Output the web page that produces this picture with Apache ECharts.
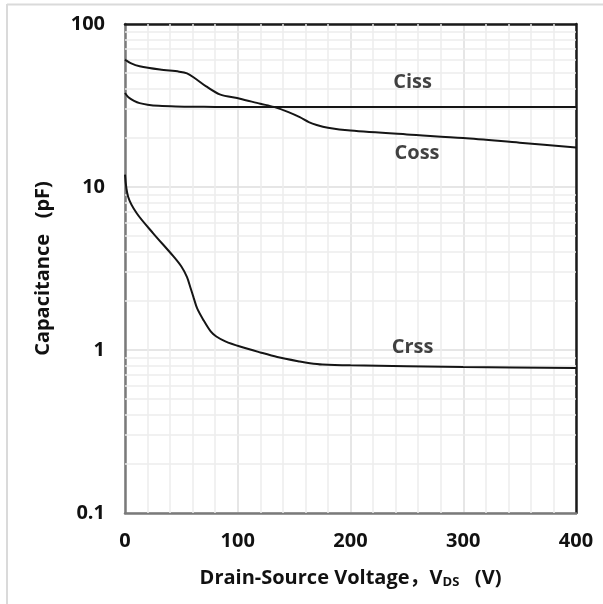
<!DOCTYPE html>
<html>
<head>
<meta charset="utf-8">
<script src="https://cdn.jsdelivr.net/npm/echarts@6/dist/echarts.min.js"></script>
<style>
  html, body { margin: 0; padding: 0; background: #fff; }
  #chart { width: 603px; height: 604px; }
</style>
</head>
<body>
<div id="chart"></div>
<script>
// Capacitance vs. drain-source voltage (log scale)
const cissV = [0, 3, 8, 13, 20, 30, 45, 60, 80, 100, 150, 200, 300, 400];
const cissC = [37.7, 35.5, 33.8, 32.7, 32.0, 31.5, 31.2, 31.1, 31.0, 31.0, 31.0, 31.0, 31.0, 31.0];

const cossV = [0, 5, 13, 31, 48, 55, 62, 72, 84, 102, 120, 132, 145, 155, 163, 170, 180, 200, 250, 300, 350, 400];
const cossC = [60.4, 57.5, 55.0, 52.5, 51.0, 49.8, 46.5, 41.4, 37.0, 34.8, 32.4, 31.0, 28.8, 26.8, 25.0, 24.0, 23.1, 22.2, 21.0, 20.0, 18.7, 17.5];

const crssV = [0, 2.7, 10.4, 25, 43, 50, 55, 58, 61, 64, 69.5, 76, 81, 89, 102, 120, 135, 155, 164, 175, 200, 300, 400];
const crssC = [11.9, 8.75, 6.9, 5.2, 3.75, 3.25, 2.8, 2.42, 2.08, 1.8, 1.53, 1.3, 1.21, 1.13, 1.05, 0.966, 0.906, 0.85, 0.83, 0.815, 0.805, 0.787, 0.776];

// curve names and where each name sits (V, pF)
const curveNames = ['Ciss', 'Coss', 'Crss'];
const namePosV = [255, 259, 255];
const namePosC = [43.6, 16.0, 1.035];

// minor gridlines: every 20 V, and 2..9 inside each decade
const minorVoltTicks = [20, 40, 60, 80, 120, 140, 160, 180, 220, 240, 260, 280, 320, 340, 360, 380];
const minorCapTicks = [0.2, 0.3, 0.4, 0.5, 0.6, 0.7, 0.8, 0.9,
                       2, 3, 4, 5, 6, 7, 8, 9,
                       20, 30, 40, 50, 60, 70, 80, 90];

const FONT = "'Open Sans', 'Noto Sans CJK SC', sans-serif";
const zip = (xs, ys) => xs.map((x, i) => [x, ys[i]]);

const curveSeries = (name, xs, ys) => ({
  name: name,
  type: 'line',
  xAxisIndex: 0, yAxisIndex: 0,
  data: zip(xs, ys),
  smooth: 0.3,
  showSymbol: false,
  lineStyle: { color: '#151515', width: 2 },
  z: 5,
  silent: true
});

const chart = echarts.init(document.getElementById('chart'), null, { renderer: 'canvas' });

chart.setOption({
  animation: false,
  backgroundColor: '#ffffff',
  grid: { left: 125, top: 24, right: 27, bottom: 91, containLabel: false },
  xAxis: [{
    type: 'value', min: 0, max: 400, interval: 100,
    position: 'bottom',
    name: '{a|Drain-Source Voltage，V}{s|DS}{a|   (V)}',
    nameLocation: 'middle', nameGap: 54,
    nameTextStyle: {
      rich: {
        a: { fontFamily: FONT, fontWeight: 'bold', fontSize: 20, color: '#111' },
        s: { fontFamily: FONT, fontWeight: 'bold', fontSize: 13, color: '#111', verticalAlign: 'bottom', padding: [9, 0, 0, 0] }
      }
    },
    axisLine: { show: true, onZero: false, lineStyle: { color: '#7a7a7a', width: 2.5 } },
    axisTick: { show: false },
    axisLabel: { fontFamily: FONT, fontWeight: 'bold', fontSize: 20, color: '#111', margin: 18 },
    splitLine: { show: true, lineStyle: { color: '#dedede', width: 1.5 } }
  }, {
    type: 'value', min: 0, max: 400, interval: 100,
    position: 'top',
    axisLine: { show: true, onZero: false, lineStyle: { color: '#1a1a1a', width: 2.5 } },
    axisTick: { show: false }, axisLabel: { show: false }, splitLine: { show: false }
  }],
  yAxis: [{
    type: 'log', logBase: 10, min: 0.1, max: 100,
    position: 'left',
    name: 'Capacitance   (pF)',
    nameLocation: 'middle', nameGap: 72,
    nameTextStyle: { fontFamily: FONT, fontWeight: 'bold', fontSize: 20, color: '#111' },
    axisLine: { show: true, onZero: false, lineStyle: { color: '#7a7a7a', width: 2.5 } },
    axisTick: { show: false },
    axisLabel: { fontFamily: FONT, fontWeight: 'bold', fontSize: 20, color: '#111', margin: 20 },
    splitLine: { show: true, lineStyle: { color: '#dedede', width: 1.5 } }
  }, {
    type: 'log', logBase: 10, min: 0.1, max: 100,
    position: 'right',
    axisLine: { show: true, onZero: false, lineStyle: { color: '#1a1a1a', width: 2.5 } },
    axisTick: { show: false }, axisLabel: { show: false }, splitLine: { show: false }
  }],
  graphic: [
    { type: 'line', shape: { x1: 7, y1: 4.5, x2: 603, y2: 4.5 }, style: { stroke: '#dadada', lineWidth: 2 }, silent: true },
    { type: 'line', shape: { x1: 7, y1: 4, x2: 7, y2: 604 }, style: { stroke: '#dadada', lineWidth: 2 }, silent: true }
  ],
  series: [
    {
      name: 'minor grid',
      type: 'line',
      data: [],
      z: 1,
      silent: true,
      markLine: {
        silent: true,
        symbol: 'none',
        label: { show: false },
        lineStyle: { color: '#ededed', width: 1.5, type: 'solid' },
        data: minorCapTicks.map(v => ({ yAxis: v })).concat(minorVoltTicks.map(v => ({ xAxis: v })))
      }
    },
    curveSeries('Ciss', cissV, cissC),
    curveSeries('Coss', cossV, cossC),
    curveSeries('Crss', crssV, crssC),
    {
      name: 'curve names',
      type: 'scatter',
      symbolSize: 0,
      z: 6,
      silent: true,
      data: curveNames.map((n, i) => ({ name: n, value: [namePosV[i], namePosC[i]] })),
      label: {
        show: true, position: 'inside',
        formatter: p => p.name,
        fontFamily: FONT, fontWeight: 'bold', fontSize: 20, color: '#111'
      }
    }
  ]
});
</script>
</body>
</html>
